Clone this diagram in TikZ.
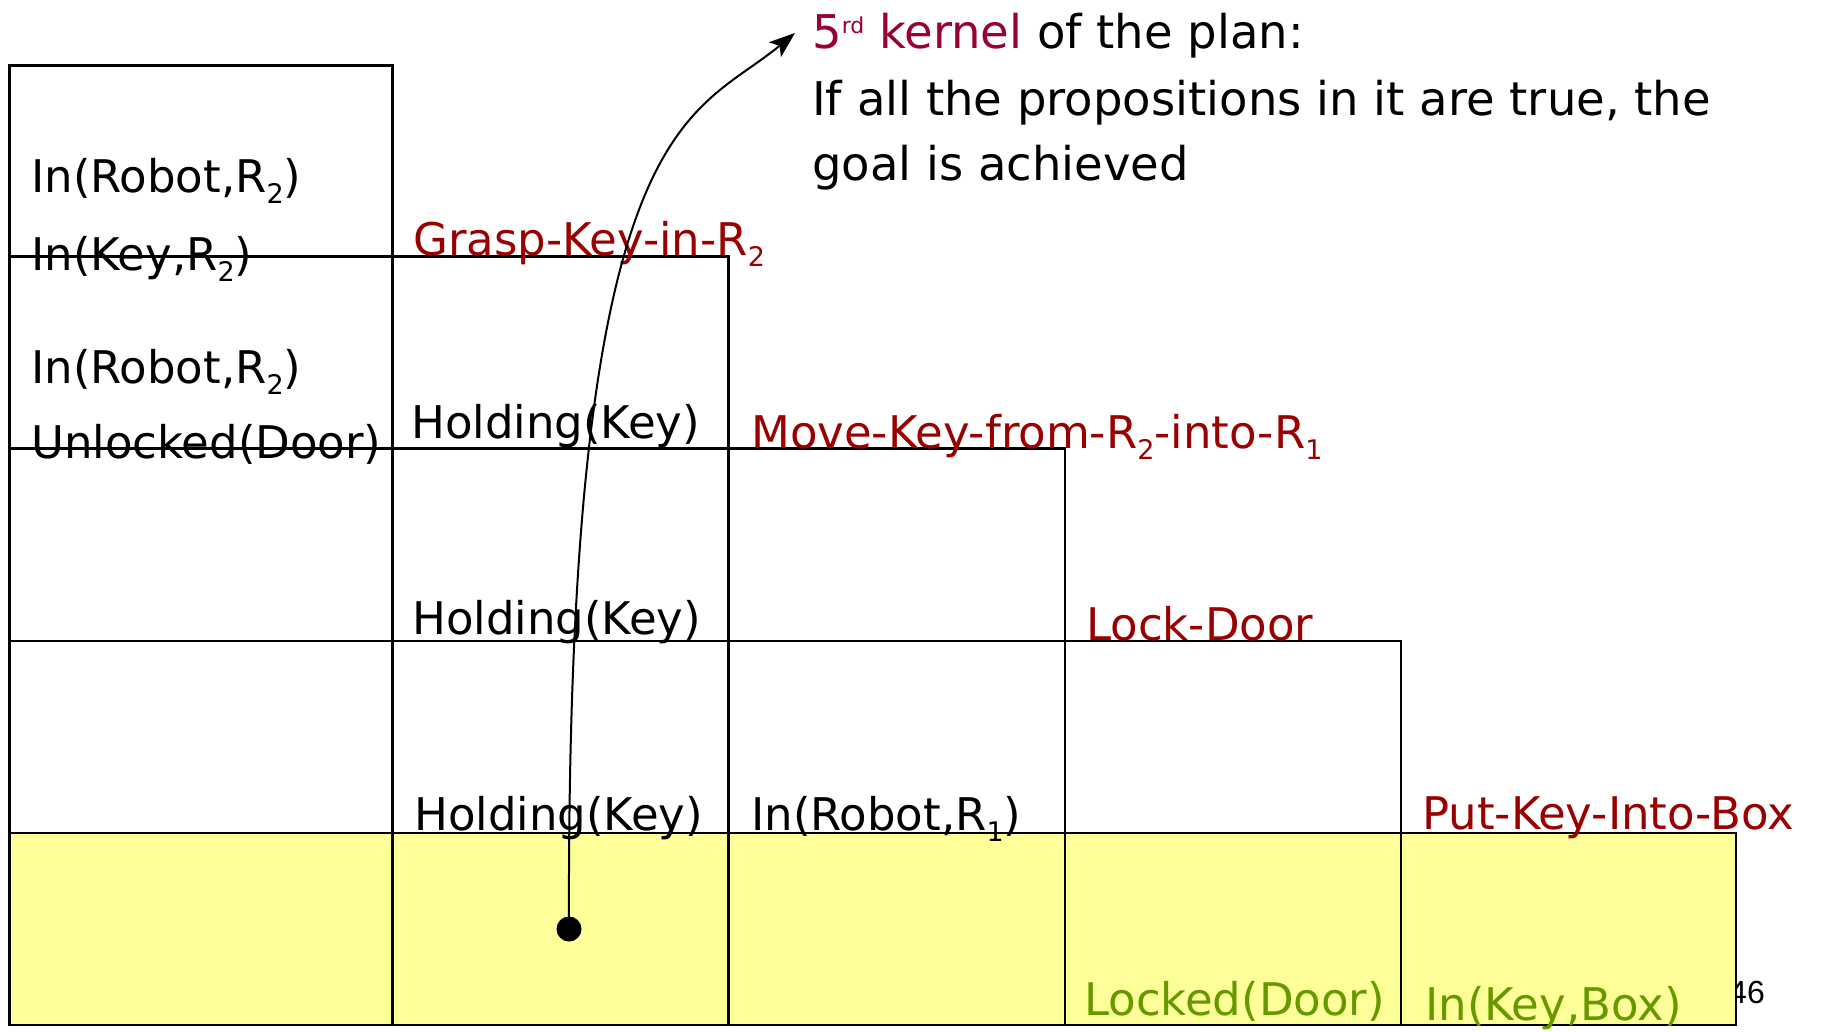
\documentclass[tikz,border=0pt]{standalone}
\usepackage{fontspec}
\setmainfont{DejaVu Sans}
\newfontfamily\pagenumfont{Liberation Sans}
\usetikzlibrary{arrows.meta}
\definecolor{actred}{RGB}{153,0,0}
\definecolor{kernelred}{RGB}{153,0,51}
\definecolor{goalgreen}{RGB}{102,153,0}
\definecolor{goalfill}{RGB}{255,255,153}
\newcommand\lowsub[1]{\raisebox{-11pt}{\fontsize{27}{27}\selectfont #1}}
\newcommand\highsup[1]{\raisebox{15pt}{\fontsize{22}{22}\selectfont #1}}
\begin{document}
\begin{tikzpicture}[x=1pt,y=-1pt,
  lbl/.style={anchor=base west, inner sep=0pt, font=\fontsize{45}{54}\selectfont},
  note/.style={lbl, font=\fontsize{46.5}{56}\selectfont},
  act/.style={lbl, text=actred},
  goal/.style={lbl, text=goalgreen},
  gridline/.style={line width=2.8pt, line cap=rect},
  ]
\useasboundingbox (0,0) rectangle (1837,1031);

% slide number, partly hidden by the goal row
\node (pagenum) [anchor=base east, inner sep=0pt, font=\pagenumfont\fontsize{32}{38}\selectfont] at (1765,1003) {46};

% goal row
\fill[goalfill] (9.4,833) rectangle (1736,1025);

% staircase of the plan
\draw[gridline] (9.4,65.6) -- (392.5,65.6);
\draw[gridline] (9.4,256.6) -- (728.7,256.6);
\draw[gridline] (9.4,448.7) -- (1065,448.7);
\draw[gridline] (9.4,640.9) -- (1401,640.9);
\draw[gridline] (9.4,833) -- (1736,833);
\draw[gridline] (9.4,1025) -- (1736,1025);
\draw[gridline] (9.4,65.6) -- (9.4,1025);
\draw[gridline] (392.5,65.6) -- (392.5,1025);
\draw[gridline] (728.7,256.6) -- (728.7,1025);
\draw[gridline] (1065,448.7) -- (1065,1025);
\draw[gridline] (1401,640.9) -- (1401,1025);
\draw[gridline] (1736,833) -- (1736,1025);

% initial state
\node (s1) [lbl] at (31,192) {In(Robot,R\lowsub{2})};
\node (s2) [lbl] at (31,270) {In(Key,R\lowsub{2})};
\node (p1) [lbl] at (31,383) {In(Robot,R\lowsub{2})};
\node (p2) [lbl] at (31,458) {Unlocked(Door)};

% actions
\node (grasp) [act] at (413,255) {Grasp-Key-in-R\lowsub{2}};
\node (move) [act] at (751,448) {Move-Key-from-R\lowsub{2}-into-R\lowsub{1}};
\node (lock) [act] at (1086,640) {Lock-Door};
\node (put) [act] at (1422,829) {Put-Key-Into-Box};

% propositions carried along
\node (h1) [lbl] at (411,438) {Holding(Key)};
\node (h2) [lbl] at (412,634) {Holding(Key)};
\node (h3) [lbl] at (414,830) {Holding(Key)};
\node (r1) [lbl] at (751,830) {In(Robot,R\lowsub{1})};

% goal propositions
\node (g1) [goal] at (1084,1015) {Locked(Door)};
\node (g2) [goal] at (1425,1020) {In(Key,Box)};

% explanation
\node (t1) [note] at (812,48) {\textcolor{kernelred}{5\highsup{rd} kernel} of the plan:};
\node (t2) [note] at (812,115) {If all the propositions in it are true, the};
\node (t3) [note] at (812,180) {goal is achieved};

% pointer from the kernel to the explanation
\node (dot) [circle, fill=black, inner sep=0pt, minimum size=25pt] at (569,929) {};
\coordinate (tip) at (795,33);
\draw[line width=2pt, -{Stealth[length=26pt,width=19pt,inset=6pt]}]
  (dot.center) .. controls (566,110) and (690,120) .. (tip);
\end{tikzpicture}
\end{document}
